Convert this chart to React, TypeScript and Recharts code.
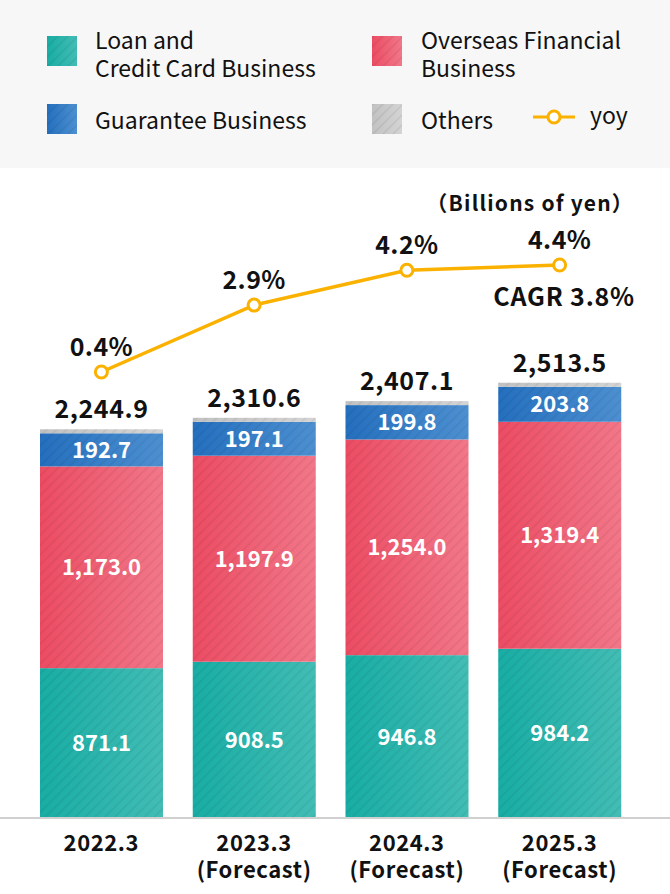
import React from "react";
import { ComposedChart, Bar, Line, XAxis, YAxis, LabelList } from "recharts";

const years = ["2022.3", "2023.3", "2024.3", "2025.3"];
const yearNotes = ["", "(Forecast)", "(Forecast)", "(Forecast)"];
const loanCredit = [871.1, 908.5, 946.8, 984.2];
const overseas = [1173.0, 1197.9, 1254.0, 1319.4];
const guarantee = [192.7, 197.1, 199.8, 203.8];
const others = [8.1, 7.1, 6.5, 6.1];
const yoy = [0.4, 2.9, 4.2, 4.4];

const FONT = '"Noto Sans CJK JP", "Noto Sans", sans-serif';
const AMBER = "#fbb100";

const colors = {
  loan: ["#18ada4", "#42bdb5"],
  overseas: ["#ec4c63", "#f27789"],
  guarantee: ["#246fbe", "#4d90d1"],
  others: ["#c2c2c2", "#d4d4d4"],
};

const data = years.map((year, i) => ({
  year,
  loan: loanCredit[i],
  overseas: overseas[i],
  guarantee: guarantee[i],
  others: others[i],
  yoy: yoy[i],
}));

const fmt = (v: number) =>
  v.toLocaleString("en-US", { minimumFractionDigits: 1, maximumFractionDigits: 1 });

const total = (i: number) => loanCredit[i] + overseas[i] + guarantee[i] + others[i];

const striped = (key: string) => (props: any) => {
  const { x, y, width, height } = props;
  if (!height || height <= 0) return <g />;
  return (
    <g>
      <rect x={x} y={y} width={width} height={height} fill={`url(#grad-${key})`} />
      <rect x={x} y={y} width={width} height={height} fill="url(#stripes)" />
    </g>
  );
};

const box = (props: any) => props.viewBox ?? props;

const segmentLabel = (values: number[]) => (props: any) => {
  const { x, y, width, height } = box(props);
  return (
    <text
      x={x + width / 2}
      y={y + height / 2 + 8}
      textAnchor="middle"
      fill="#fff"
      fontSize={22}
      fontWeight={700}
      fontFamily={FONT}
    >
      {fmt(values[props.index])}
    </text>
  );
};

const totalLabel = (props: any) => {
  const { x, y, width } = box(props);
  return (
    <text
      x={x + width / 2}
      y={y - 11}
      textAnchor="middle"
      fill="#111"
      fontSize={25}
      fontWeight={700}
      letterSpacing={0.6}
      fontFamily={FONT}
    >
      {fmt(total(props.index))}
    </text>
  );
};

const yoyLabel = (props: any) => {
  const { x, y } = box(props);
  return (
    <text
      x={x}
      y={y - 16}
      textAnchor="middle"
      fill="#111"
      fontSize={25}
      fontWeight={700}
      letterSpacing={0.4}
      fontFamily={FONT}
    >
      {yoy[props.index].toFixed(1)}%
    </text>
  );
};

const YearTick = (props: any) => {
  const { x, y, payload } = props;
  const i = years.indexOf(payload.value);
  const common = {
    x,
    textAnchor: "middle" as const,
    fill: "#111",
    fontSize: 22,
    fontWeight: 700,
    letterSpacing: 0.6,
    fontFamily: FONT,
  };
  return (
    <g>
      <text {...common} y={y + 33}>{payload.value}</text>
      {yearNotes[i] ? <text {...common} y={y + 60}>{yearNotes[i]}</text> : null}
    </g>
  );
};

const swatch = (c: string[]) => ({
  position: "absolute" as const,
  width: 30,
  height: 30,
  background: `repeating-linear-gradient(135deg, rgba(0,0,0,0.05) 0 2px, transparent 2px 7px), linear-gradient(90deg, ${c[0]}, ${c[1]})`,
});

const legendText = {
  position: "absolute" as const,
  fontSize: 23,
  lineHeight: "26px",
  color: "#111",
  whiteSpace: "nowrap" as const,
};

function Legend() {
  return (
    <div style={{ position: "absolute", left: 0, top: 0, width: 670, height: 168, background: "#f7f7f7" }}>
      <div style={{ ...swatch(colors.loan), left: 47, top: 36 }} />
      <div style={{ ...legendText, left: 95, top: 26 }}>Loan and</div>
      <div style={{ ...legendText, left: 95, top: 54 }}>Credit Card Business</div>
      <div style={{ ...swatch(colors.overseas), left: 372, top: 36 }} />
      <div style={{ ...legendText, left: 421, top: 26 }}>Overseas Financial</div>
      <div style={{ ...legendText, left: 421, top: 54 }}>Business</div>
      <div style={{ ...swatch(colors.guarantee), left: 47, top: 104 }} />
      <div style={{ ...legendText, left: 95, top: 106 }}>Guarantee Business</div>
      <div style={{ ...swatch(colors.others), left: 372, top: 104 }} />
      <div style={{ ...legendText, left: 421, top: 106 }}>Others</div>
      <svg style={{ position: "absolute", left: 533, top: 107 }} width={42} height={20}>
        <line x1={0} y1={10} x2={42} y2={10} stroke={AMBER} strokeWidth={3} />
        <circle cx={21} cy={10} r={6} fill="#fff" stroke={AMBER} strokeWidth={3} />
      </svg>
      <div style={{ ...legendText, left: 590, top: 101 }}>yoy</div>
    </div>
  );
}

export default function App() {
  return (
    <div style={{ position: "relative", width: 670, height: 894, background: "#fff", fontFamily: FONT }}>
      <style>{"body{margin:0}"}</style>
      <Legend />
      <div
        style={{
          position: "absolute",
          right: 36,
          top: 188,
          fontSize: 21,
          lineHeight: "28px",
          fontWeight: 700,
          letterSpacing: 1.2,
          color: "#111",
          whiteSpace: "nowrap",
        }}
      >
        （Billions of yen）
      </div>
      <div
        style={{
          position: "absolute",
          right: 35,
          top: 280,
          fontSize: 25,
          lineHeight: "30px",
          fontWeight: 700,
          letterSpacing: 0.8,
          color: "#111",
          whiteSpace: "nowrap",
        }}
      >
        CAGR 3.8%
      </div>
      <div style={{ position: "absolute", left: 0, top: 168 }}>
        <ComposedChart width={670} height={726} data={data} margin={{ top: 10, right: 0, left: 0, bottom: 0 }}>
          <defs>
            {Object.entries(colors).map(([k, c]) => (
              <linearGradient key={k} id={`grad-${k}`} x1="0" y1="0" x2="1" y2="0">
                <stop offset="0%" stopColor={c[0]} />
                <stop offset="100%" stopColor={c[1]} />
              </linearGradient>
            ))}
            <pattern id="stripes" width={7} height={7} patternUnits="userSpaceOnUse" patternTransform="rotate(45)">
              <rect x={0} y={0} width={2} height={7} fill="rgba(0,0,0,0.05)" />
            </pattern>
          </defs>
          <XAxis
            dataKey="year"
            axisLine={{ stroke: "#d0d0d0", strokeWidth: 2 }}
            tickLine={false}
            tickSize={0}
            tickMargin={0}
            height={76}
            padding={{ left: 25, right: 34 }}
            tick={<YearTick />}
            interval={0}
          />
          <YAxis yAxisId="amt" hide domain={[0, 3721]} />
          <YAxis yAxisId="pct" hide orientation="right" domain={[-16.27, 7.65]} />
          <Bar yAxisId="amt" dataKey="loan" stackId="a" barSize={123} shape={striped("loan")} isAnimationActive={false}>
            <LabelList content={segmentLabel(loanCredit)} />
          </Bar>
          <Bar yAxisId="amt" dataKey="overseas" stackId="a" barSize={123} shape={striped("overseas")} isAnimationActive={false}>
            <LabelList content={segmentLabel(overseas)} />
          </Bar>
          <Bar yAxisId="amt" dataKey="guarantee" stackId="a" barSize={123} shape={striped("guarantee")} isAnimationActive={false}>
            <LabelList content={segmentLabel(guarantee)} />
          </Bar>
          <Bar
            yAxisId="amt"
            dataKey="others"
            stackId="a"
            barSize={123}
            minPointSize={4}
            shape={striped("others")}
            isAnimationActive={false}
          >
            <LabelList content={totalLabel} />
          </Bar>
          <Line
            yAxisId="pct"
            dataKey="yoy"
            stroke={AMBER}
            strokeWidth={3.5}
            dot={{ r: 6, fill: "#fff", stroke: AMBER, strokeWidth: 3 }}
            isAnimationActive={false}
          >
            <LabelList content={yoyLabel} />
          </Line>
        </ComposedChart>
      </div>
    </div>
  );
}
